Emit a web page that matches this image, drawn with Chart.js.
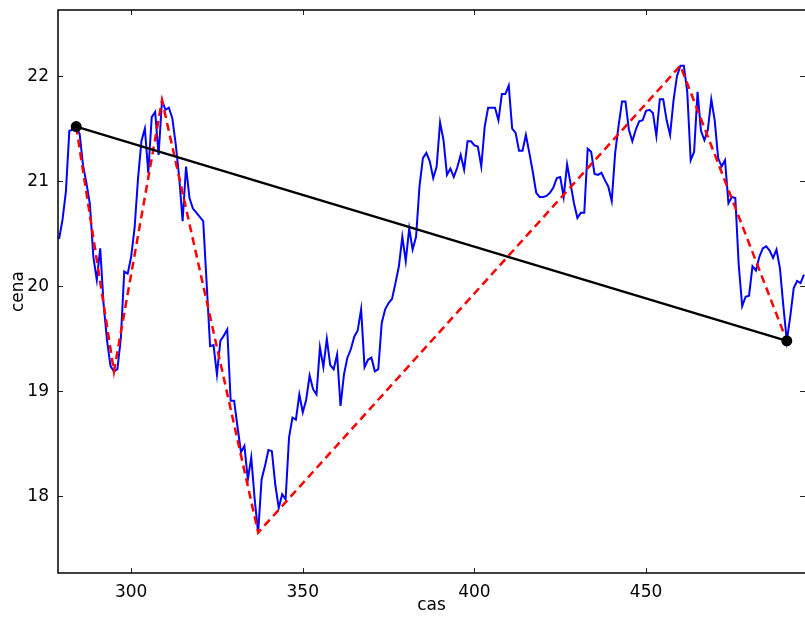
<!DOCTYPE html>
<html>
<head>
<meta charset="utf-8">
<script src="https://cdn.jsdelivr.net/npm/chart.js@4.4.1/dist/chart.umd.min.js"></script>
<style>
  html, body { margin: 0; padding: 0; background: #ffffff; }
  #wrap { width: 805px; height: 617px; }
</style>
</head>
<body>
<div id="wrap"><canvas id="c" width="805" height="617"></canvas></div>
<script>
// ---- data ----
const firstDay = 279;
const prices = [
  20.45, 20.63, 20.90, 21.48, 21.49, 21.52, 21.45, 21.15, 20.98, 20.78,
  20.28, 20.06, 20.36, 19.82, 19.48, 19.24, 19.19, 19.21, 19.50, 20.14,
  20.12, 20.28, 20.55, 21.02, 21.38, 21.50, 21.08, 21.61, 21.66, 21.25,
  21.77, 21.68, 21.70, 21.60, 21.35, 21.04, 20.62, 21.14, 20.84, 20.74,
  20.70, 20.66, 20.62, 20.03, 19.43, 19.44, 19.16, 19.48, 19.53, 19.59,
  18.91, 18.91, 18.66, 18.42, 18.48, 18.16, 18.37, 17.97, 17.655, 18.16,
  18.29, 18.44, 18.43, 18.11, 17.89, 18.02, 17.97, 18.56, 18.75, 18.73,
  18.97, 18.80, 18.92, 19.15, 19.02, 18.97, 19.42, 19.23, 19.50, 19.25,
  19.21, 19.35, 18.86, 19.16, 19.32, 19.40, 19.52, 19.58, 19.78, 19.23,
  19.30, 19.32, 19.19, 19.21, 19.65, 19.78, 19.84, 19.88, 20.03, 20.19,
  20.47, 20.24, 20.55, 20.35, 20.47, 20.95, 21.22, 21.27, 21.19, 21.03,
  21.14, 21.56, 21.39, 21.06, 21.12, 21.04, 21.13, 21.25, 21.11, 21.38,
  21.38, 21.34, 21.33, 21.14, 21.52, 21.70, 21.70, 21.70, 21.58, 21.83,
  21.83, 21.91, 21.50, 21.46, 21.29, 21.29, 21.44, 21.27, 21.09, 20.89,
  20.85, 20.85, 20.86, 20.89, 20.94, 21.03, 21.04, 20.85, 21.16, 20.98,
  20.79, 20.65, 20.70, 20.70, 21.31, 21.28, 21.07, 21.06, 21.08, 21.01,
  20.95, 20.81, 21.27, 21.53, 21.76, 21.76, 21.49, 21.38, 21.49, 21.57,
  21.58, 21.67, 21.68, 21.65, 21.43, 21.78, 21.78, 21.58, 21.44, 21.77,
  22.00, 22.10, 22.10, 21.85, 21.20, 21.28, 21.85, 21.48, 21.39, 21.49,
  21.78, 21.58, 21.22, 21.14, 21.20, 20.79, 20.85, 20.84, 20.20, 19.81,
  19.90, 19.91, 20.19, 20.15, 20.28, 20.36, 20.38, 20.34, 20.27, 20.35,
  20.17, 19.81, 19.48, 19.71, 19.98, 20.05, 20.03, 20.11
];
const turnDays = [284, 295, 309, 337, 460, 491];
const turnPrices = [21.52, 19.19, 21.77, 17.655, 22.10, 19.48];
const trendDays = [284, 491];
const trendPrices = [21.52, 19.48];
const xTicks = [300, 350, 400, 450];
const yTicks = [18, 19, 20, 21, 22];
const xLabel = 'cas';
const yLabel = 'cena';

// ---- build points ----
const pricePoints = prices.map((v, i) => ({ x: firstDay + i, y: v }));
const turnPoints = turnDays.map((d, i) => ({ x: d, y: turnPrices[i] }));
const trendPoints = trendDays.map((d, i) => ({ x: d, y: trendPrices[i] }));

const FONT = { family: 'DejaVu Sans', size: 17 };

const framePlugin = {
  id: 'frame',
  afterDraw(chart) {
    const { ctx, chartArea: a, scales } = chart;
    const x = scales.x, y = scales.y;
    const L = 5;
    ctx.save();
    ctx.strokeStyle = '#222';
    ctx.lineWidth = 1;
    ctx.beginPath();
    xTicks.forEach(v => {
      const px = Math.round(x.getPixelForValue(v)) + 0.5;
      ctx.moveTo(px, a.bottom); ctx.lineTo(px, a.bottom - L);
      ctx.moveTo(px, a.top); ctx.lineTo(px, a.top + L);
    });
    yTicks.forEach(v => {
      const py = Math.round(y.getPixelForValue(v)) + 0.5;
      ctx.moveTo(a.left, py); ctx.lineTo(a.left + L, py);
      ctx.moveTo(a.right, py); ctx.lineTo(a.right - L, py);
    });
    ctx.stroke();
    ctx.strokeStyle = '#000';
    ctx.lineWidth = 1.5;
    ctx.strokeRect(a.left, a.top, a.right - a.left + 2, a.bottom - a.top);
    ctx.restore();
  }
};

new Chart(document.getElementById('c'), {
  type: 'line',
  data: {
    datasets: [
      {
        label: 'trend',
        data: trendPoints,
        borderColor: '#000000',
        backgroundColor: '#000000',
        borderWidth: 2.5,
        pointRadius: 5.5,
        pointHoverRadius: 5.5,
        pointBackgroundColor: '#000000',
        pointBorderWidth: 0,
        tension: 0,
        fill: false
      },
      {
        label: 'turns',
        data: turnPoints,
        borderColor: '#ff0000',
        borderWidth: 2.5,
        borderDash: [8, 5],
        pointRadius: 0,
        tension: 0,
        fill: false
      },
      {
        label: 'price',
        data: pricePoints,
        borderColor: '#0000ff',
        borderWidth: 2,
        pointRadius: 0,
        tension: 0,
        fill: false
      }
    ]
  },
  options: {
    responsive: false,
    animation: false,
    events: [],
    layout: { autoPadding: false, padding: { top: 10, right: 0, left: 0, bottom: 0 } },
    plugins: { legend: { display: false }, tooltip: { enabled: false } },
    scales: {
      x: {
        type: 'linear',
        min: 278.7,
        max: 496.3,
        afterBuildTicks: s => { s.ticks = xTicks.map(v => ({ value: v })); },
        afterFit: s => { s.height = 44; s.paddingLeft = 0; s.paddingRight = 0; },
        grid: { display: false, drawTicks: false },
        border: { display: false },
        ticks: { font: FONT, color: '#000', padding: 9, maxRotation: 0, autoSkip: false },
        title: { display: true, text: xLabel, font: FONT, color: '#000', padding: { top: 0, bottom: 1 } }
      },
      y: {
        type: 'linear',
        min: 17.27,
        max: 22.63,
        afterBuildTicks: s => { s.ticks = yTicks.map(v => ({ value: v })); },
        afterFit: s => { s.width = 58; s.paddingTop = 0; s.paddingBottom = 0; },
        grid: { display: false, drawTicks: false },
        border: { display: false },
        ticks: { font: FONT, color: '#000', padding: 9, autoSkip: false },
        title: { display: true, text: yLabel, font: FONT, color: '#000', padding: { top: 8, bottom: 0 } }
      }
    }
  },
  plugins: [framePlugin]
});
</script>
</body>
</html>
